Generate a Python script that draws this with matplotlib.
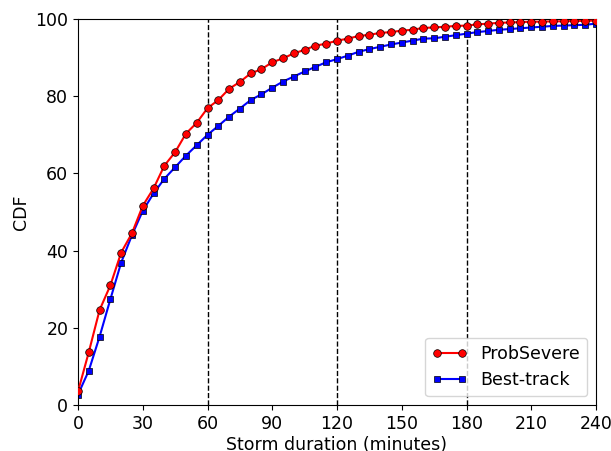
import numpy as np
import matplotlib.pyplot as plt

# Duração da tempestade em minutos (um ponto a cada 5 min)
duracao = np.arange(0, 245, 5)

# CDF (%)
probsevere = [3.5, 13.7, 24.6, 31.0, 39.5, 44.5, 51.6, 56.1, 62.0, 65.5,
              70.3, 73.1, 76.9, 79.0, 81.9, 83.7, 85.9, 87.0, 88.8, 89.8,
              91.1, 92.0, 93.1, 93.6, 94.4, 94.9, 95.6, 95.9, 96.4, 96.6,
              97.0, 97.2, 97.7, 97.8, 98.0, 98.2, 98.3, 98.6, 98.8, 99.0,
              99.1, 99.2, 99.3, 99.3, 99.4, 99.4, 99.5, 99.5, 99.6]
besttrack = [2.7, 8.9, 17.7, 27.4, 36.9, 44.0, 50.3, 54.8, 58.6, 61.6,
             64.6, 67.3, 70.0, 72.3, 74.7, 76.8, 79.0, 80.5, 82.2, 83.8,
             85.1, 86.4, 87.6, 88.8, 89.6, 90.5, 91.5, 92.2, 92.8, 93.4,
             93.9, 94.4, 94.9, 95.0, 95.4, 95.8, 96.2, 96.6, 96.9, 97.2,
             97.4, 97.6, 97.8, 98.0, 98.2, 98.3, 98.4, 98.5, 98.8]

linhas_ref = [60, 120, 180]
xticks = np.arange(0, 241, 30)

fig = plt.figure(figsize=(6.11, 4.51), dpi=100)
ax = fig.add_axes([78 / 611, 1 - 405 / 451, 518 / 611, 386 / 451])

for xv in linhas_ref:
    ax.axvline(xv, color='k', linestyle='--', linewidth=1, zorder=1)

ax.plot(duracao, probsevere, '-o', color='red', markerfacecolor='red',
        markeredgecolor='k', markeredgewidth=0.5, markersize=5.5,
        linewidth=1.5, label='ProbSevere', zorder=3)
ax.plot(duracao, besttrack, '-s', color='blue', markerfacecolor='blue',
        markeredgecolor='k', markeredgewidth=0.5, markersize=5,
        linewidth=1.5, label='Best-track', zorder=2)

ax.set_xlim(0, 240)
ax.set_ylim(0, 100)
ax.set_xticks(xticks)
ax.tick_params(labelsize=12.5)
ax.set_xlabel('Storm duration (minutes)', fontsize=12.5, labelpad=2)
ax.set_ylabel('CDF', fontsize=12.5)
ax.legend(loc='lower right', fontsize=12.5, numpoints=2)

fig.savefig('out.png', dpi=100)
